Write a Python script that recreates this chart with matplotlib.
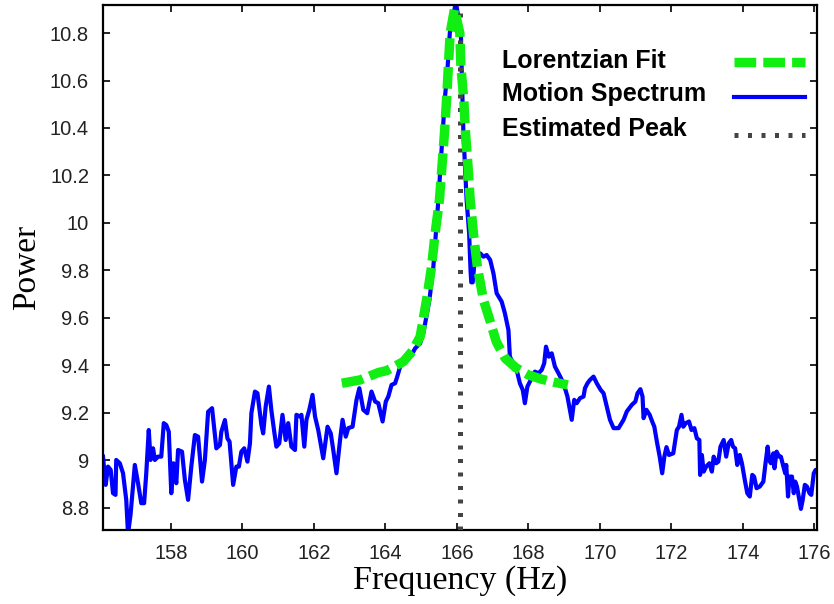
import matplotlib
matplotlib.use("Agg")
import matplotlib.pyplot as plt
from matplotlib.lines import Line2D

# ---------------- data ----------------
spec_freq = [
    156.10, 156.175, 156.24, 156.315, 156.38, 156.45, 156.47, 156.57, 156.66, 156.75,
    156.80, 156.87, 156.99, 157.08, 157.17, 157.25, 157.31, 157.38, 157.43, 157.50,
    157.55, 157.64, 157.73, 157.80, 157.87, 157.94, 158.01, 158.07, 158.15, 158.20,
    158.31, 158.39, 158.48, 158.57, 158.67, 158.76, 158.87, 158.95, 159.04, 159.15,
    159.27, 159.37, 159.41, 159.51, 159.58, 159.64, 159.74, 159.83, 159.90, 159.97,
    160.05, 160.14, 160.21, 160.25, 160.35, 160.42, 160.53, 160.58, 160.65, 160.74,
    160.81, 160.89, 160.95, 161.03, 161.12, 161.21, 161.28, 161.37, 161.47, 161.51,
    161.61, 161.65, 161.73, 161.79, 161.87, 161.96, 162.03, 162.12, 162.26, 162.38,
    162.47, 162.54, 162.63, 162.73, 162.80, 162.89, 162.96, 163.08, 163.19, 163.27,
    163.38, 163.49, 163.61, 163.71, 163.80, 163.92, 164.01, 164.08, 164.17, 164.27,
    164.33, 164.41, 164.50, 164.64, 164.73, 164.83, 164.97, 165.06, 165.23, 165.34,
    165.41, 165.48, 165.54, 165.60, 165.66, 165.74, 165.80, 165.97, 166.11, 166.13,
    166.18, 166.27, 166.34, 166.38, 166.40, 166.44, 166.50, 166.55, 166.65, 166.74,
    166.83, 166.93, 167.02, 167.11, 167.25, 167.34, 167.44, 167.48, 167.67, 167.76,
    167.84, 167.90, 167.97, 168.04, 168.18, 168.28, 168.37, 168.44, 168.49, 168.57,
    168.65, 168.74, 168.84, 168.98, 169.09, 169.21, 169.28, 169.35, 169.44, 169.54,
    169.58, 169.65, 169.72, 169.82, 169.91, 170.02, 170.10, 170.19, 170.28, 170.38,
    170.52, 170.66, 170.75, 170.89, 170.99, 171.05, 171.13, 171.19, 171.22, 171.30,
    171.39, 171.46, 171.52, 171.60, 171.67, 171.74, 171.80, 171.86, 171.93, 172.05,
    172.15, 172.21, 172.28, 172.33, 172.40, 172.49, 172.56, 172.64, 172.71, 172.78,
    172.80, 172.85, 172.90, 172.97, 173.06, 173.13, 173.18, 173.25, 173.31, 173.37,
    173.46, 173.53, 173.60, 173.67, 173.72, 173.78, 173.84, 173.91, 173.97, 174.05,
    174.12, 174.19, 174.26, 174.31, 174.38, 174.47, 174.57, 174.63, 174.69, 174.73,
    174.78, 174.85, 174.88, 174.94, 175.01, 175.06, 175.13, 175.18, 175.21, 175.26,
    175.30, 175.37, 175.42, 175.46, 175.51, 175.56, 175.62, 175.67, 175.73, 175.79,
    175.86, 175.91, 175.98, 176.03, 176.10,
]
spec_power = [
    9.016, 8.897, 8.974, 8.960, 8.862, 8.855, 9.002, 8.988, 8.946, 8.834,
    8.690, 8.771, 8.981, 8.904, 8.820, 8.820, 8.946, 9.128, 9.002, 9.051,
    9.002, 9.016, 9.016, 9.157, 9.149, 9.121, 8.862, 8.988, 8.904, 9.044,
    9.037, 8.918, 8.834, 8.974, 9.107, 9.100, 8.911, 9.002, 9.205, 9.220,
    9.051, 9.065, 9.121, 9.170, 9.093, 9.079, 8.897, 8.974, 8.974, 9.037,
    9.051, 8.995, 9.072, 9.199, 9.290, 9.283, 9.150, 9.114, 9.227, 9.311,
    9.210, 9.120, 9.058, 9.072, 9.192, 9.086, 9.157, 9.058, 9.044, 9.192,
    9.185, 9.192, 9.058, 9.171, 9.213, 9.276, 9.185, 9.128, 9.009, 9.142,
    9.114, 9.044, 8.946, 9.086, 9.171, 9.100, 9.136, 9.142, 9.255, 9.304,
    9.213, 9.199, 9.290, 9.248, 9.241, 9.164, 9.248, 9.269, 9.318, 9.325,
    9.353, 9.395, 9.409, 9.430, 9.444, 9.472, 9.493, 9.536, 9.676, 9.816,
    9.957, 10.097, 10.237, 10.378, 10.520, 10.660, 10.800, 10.930, 10.800, 10.660,
    10.380, 10.097, 9.957, 9.800, 9.750, 9.750, 9.850, 9.844, 9.872, 9.858,
    9.865, 9.844, 9.788, 9.704, 9.669, 9.620, 9.549, 9.437, 9.381, 9.325,
    9.297, 9.241, 9.311, 9.332, 9.374, 9.367, 9.381, 9.409, 9.479, 9.437,
    9.451, 9.395, 9.367, 9.325, 9.269, 9.171, 9.255, 9.241, 9.262, 9.269,
    9.304, 9.325, 9.339, 9.353, 9.325, 9.297, 9.283, 9.227, 9.171, 9.136,
    9.136, 9.171, 9.206, 9.234, 9.248, 9.283, 9.300, 9.269, 9.178, 9.213,
    9.192, 9.164, 9.142, 9.072, 9.016, 8.946, 9.016, 9.056, 9.023, 9.030,
    9.128, 9.142, 9.192, 9.142, 9.157, 9.164, 9.128, 9.136, 9.093, 9.086,
    8.939, 9.023, 8.953, 8.974, 8.988, 8.953, 9.016, 8.988, 8.995, 9.058,
    9.086, 9.016, 9.072, 9.086, 9.058, 9.051, 8.981, 9.023, 8.988, 8.918,
    8.862, 8.848, 8.939, 8.932, 8.883, 8.890, 8.911, 8.988, 9.058, 9.002,
    8.988, 9.030, 8.967, 9.037, 9.016, 9.016, 8.974, 8.946, 8.981, 8.848,
    8.932, 8.932, 8.862, 8.911, 8.890, 8.848, 8.796, 8.834, 8.897, 8.890,
    8.862, 8.855, 8.946, 8.960, 8.953,
]

fit_freq = [
    162.78, 163.29, 163.80, 164.03, 164.50, 164.75, 164.97, 165.15, 165.29, 165.39,
    165.51, 165.58, 165.65, 165.71, 165.76, 165.81, 165.93, 166.08, 166.11, 166.19,
    166.24, 166.31, 166.37, 166.46, 166.57, 166.74, 166.90, 167.10, 167.35, 167.65,
    168.00, 168.37, 168.70, 169.10,
]
fit_power = [
    9.325, 9.339, 9.370, 9.378, 9.416, 9.460, 9.521, 9.676, 9.816, 9.957,
    10.097, 10.237, 10.378, 10.520, 10.660, 10.800, 10.900, 10.800, 10.660, 10.520,
    10.378, 10.237, 10.097, 9.957, 9.816, 9.676, 9.600, 9.500, 9.430, 9.390,
    9.360, 9.342, 9.330, 9.318,
]

peak_freq = 166.08

x_ticks = [158, 160, 162, 164, 166, 168, 170, 172, 174, 176]
y_ticks = [8.8, 9.0, 9.2, 9.4, 9.6, 9.8, 10.0, 10.2, 10.4, 10.6, 10.8]
y_tick_labels = ["8.8", "9", "9.2", "9.4", "9.6", "9.8", "10", "10.2", "10.4", "10.6", "10.8"]

legend_labels = ["Lorentzian Fit", "Motion Spectrum", "Estimated Peak"]

# ---------------- styling ----------------
BLUE = "#0000ff"
GREEN = "#11ee11"
GREY = "#444444"
W, H = 834, 604

fig = plt.figure(figsize=(W / 100, H / 100), dpi=100)
ax = fig.add_axes([103 / W, 1 - 530 / H, (817 - 103) / W, (530 - 5) / H])

ax.plot(spec_freq, spec_power, color=BLUE, lw=3.0, solid_joinstyle="round", zorder=2)
ax.axvline(peak_freq, color=GREY, lw=3.6, linestyle=(0, (0.8, 1.9)), zorder=3)
ax.plot(fit_freq, fit_power, color=GREEN, lw=6.8, linestyle=(0, (2.3, 0.75)),
        dash_capstyle="butt", zorder=4)

ax.set_xlim(156.1, 176.07)
ax.set_ylim(8.707, 10.918)
ax.set_xticks(x_ticks)
ax.set_xticklabels([str(t) for t in x_ticks])
ax.set_yticks(y_ticks)
ax.set_yticklabels(y_tick_labels)

for lab in ax.get_xticklabels() + ax.get_yticklabels():
    lab.set_fontfamily("Liberation Sans")
    lab.set_fontsize(14.5)
    lab.set_color("#222222")

ax.tick_params(direction="in", length=5, width=1.2, top=True, right=True, pad=10)
for s in ax.spines.values():
    s.set_linewidth(1.6)

ax.set_xlabel("Frequency (Hz)", fontfamily="Liberation Serif", fontsize=24.5, labelpad=2)
ax.set_ylabel("Power", fontfamily="Liberation Serif", fontsize=24, labelpad=6)

# ---------------- legend: left-aligned labels, handles on the right ----------------
leg_styles = [
    dict(color=GREEN, lw=6.8, linestyle=(0, (2.3, 0.75)), dash_capstyle="butt"),
    dict(color=BLUE, lw=3.0),
    dict(color=GREY, lw=3.6, linestyle=(0, (0.8, 1.9))),
]
text_y = [61, 94.5, 129]
handle_y = [61.5, 97, 135]
for lbl, ty, hy, st in zip(legend_labels, text_y, handle_y, leg_styles):
    fig.text(502 / W, 1 - ty / H, lbl, ha="left", va="center",
             fontfamily="Liberation Sans", fontweight="bold", fontsize=18)
    fig.add_artist(Line2D([734 / W, 805 / W], [1 - hy / H, 1 - hy / H],
                          transform=fig.transFigure, **st))

fig.savefig("out.png", dpi=100)
